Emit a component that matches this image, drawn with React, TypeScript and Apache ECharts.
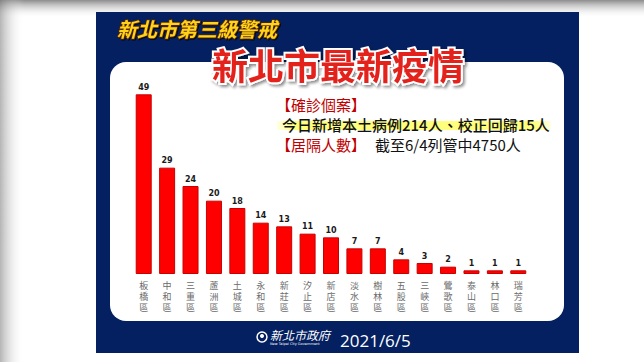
import React, { useEffect, useRef } from "react";
import * as echarts from "echarts";

const districts = ["板橋區", "中和區", "三重區", "蘆洲區", "土城區", "永和區", "新莊區", "汐止區", "新店區", "淡水區", "樹林區", "五股區", "三峽區", "鶯歌區", "泰山區", "林口區", "瑞芳區"];
const cases = [49, 29, 24, 20, 18, 14, 13, 11, 10, 7, 7, 4, 3, 2, 1, 1, 1];

const headerText = "新北市第三級警戒";
const titleText = "新北市最新疫情";
const infoHead1 = "【確診個案】";
const infoLine1 = "今日新增本土病例214人、校正回歸15人";
const infoHead2 = "【居隔人數】";
const infoLine2 = "截至6/4列管中4750人";
const footerOrg = "新北市政府";
const footerOrgEn = "New Taipei City Government";
const footerDate = "2021/6/5";

const CJK = '"Noto Sans CJK TC", "Noto Sans CJK SC", sans-serif';

export default function App() {
  const ref = useRef<HTMLDivElement>(null);
  useEffect(() => {
    if (!ref.current) return;
    const chart = echarts.init(ref.current, null, { renderer: "svg" });
    const txt = (x: number, y: number, text: string, style: any, z = 10) => ({
      type: "text",
      x,
      y,
      z,
      style: { text, fontFamily: CJK, textAlign: "left", align: "left", textVerticalAlign: "middle", verticalAlign: "middle", ...style },
    });
    chart.setOption({
      animation: false,
      backgroundColor: "#ffffff",
      grid: { left: 132, right: 114, top: 54, bottom: 88 },
      xAxis: {
        type: "category",
        data: districts,
        axisLine: { show: false },
        axisTick: { show: false },
        axisLabel: {
          interval: 0,
          margin: 6,
          color: "#6a6a6a",
          fontSize: 9,
          lineHeight: 11,
          fontFamily: CJK,
          formatter: (v: string) => v.split("").join("\n"),
        },
      },
      yAxis: { type: "value", min: 0, max: 60, show: false, splitLine: { show: false } },
      series: [
        {
          type: "bar",
          data: cases,
          barWidth: 16,
          z: 5,
          itemStyle: { color: "#ff0000", borderColor: "#c80000", borderWidth: 1 },
          label: {
            show: true,
            position: "top",
            distance: 3,
            fontSize: 8,
            fontWeight: "bold",
            color: "#1a1a1a",
            fontFamily: "DejaVu Sans, sans-serif",
          },
        },
      ],
      graphic: [
        {
          type: "rect",
          z: -10,
          shape: { x: 0, y: 0, width: 644, height: 18 },
          style: { fill: new echarts.graphic.LinearGradient(0, 0, 0, 1, [{ offset: 0, color: "#8c8c8c" }, { offset: 1, color: "rgba(255,255,255,0)" }]) },
        },
        {
          type: "rect",
          z: -10,
          shape: { x: 0, y: 0, width: 24, height: 362 },
          style: { fill: new echarts.graphic.LinearGradient(0, 0, 1, 0, [{ offset: 0, color: "rgba(120,120,120,0.55)" }, { offset: 1, color: "rgba(255,255,255,0)" }]) },
        },
        {
          type: "rect",
          z: -5,
          shape: { x: 96, y: 12, width: 483, height: 341 },
          style: { fill: "#042060" },
        },
        {
          type: "rect",
          z: -4,
          shape: { x: 110, y: 62, width: 454, height: 259, r: 16 },
          style: { fill: "#ffffff" },
        },
        txt(117, 28, headerText, {
          fontSize: 20,
          fontWeight: "bold",
          fontStyle: "italic",
          fill: "#ffd21a",
          stroke: "#5a2a00",
          lineWidth: 1.5,
          textShadowColor: "rgba(0,0,0,0.7)",
          textShadowOffsetX: 1,
          textShadowOffsetY: 1,
          textShadowBlur: 1,
        }),
        txt(338, 64, titleText, {
          fontSize: 36,
          fontWeight: "bold",
          textAlign: "center",
          align: "center",
          fill: "#e3201c",
          stroke: "#ffffff",
          lineWidth: 4,
          textShadowColor: "rgba(0,0,0,0.45)",
          textShadowOffsetX: 2,
          textShadowOffsetY: 2,
          textShadowBlur: 3,
        }),
        {
          type: "rect",
          z: 5,
          shape: { x: 277, y: 121, width: 274, height: 9 },
          style: {
            fill: new echarts.graphic.LinearGradient(0, 0, 1, 0, [
              { offset: 0, color: "rgba(255,255,120,0.2)" },
              { offset: 0.06, color: "rgba(255,255,110,0.9)" },
              { offset: 0.94, color: "rgba(255,255,110,0.9)" },
              { offset: 1, color: "rgba(255,255,120,0.2)" },
            ]),
          },
        },
        txt(276, 104, infoHead1, { fontSize: 15, fill: "#c00000" }),
        txt(282, 124, infoLine1, { fontSize: 15, fontWeight: 500, fill: "#111111" }),
        txt(276, 144, infoHead2, { fontSize: 15, fill: "#c00000" }),
        txt(375, 144, infoLine2, { fontSize: 15, fill: "#111111" }),
        {
          type: "circle",
          z: 10,
          shape: { cx: 262, cy: 337, r: 5 },
          style: { fill: "none", stroke: "#ffffff", lineWidth: 1.5 },
        },
        {
          type: "circle",
          z: 10,
          shape: { cx: 262, cy: 336, r: 2 },
          style: { fill: "#ffffff" },
        },
        txt(270, 334, footerOrg, { fontSize: 12, fontStyle: "italic", fill: "#ffffff" }),
        txt(270, 344, footerOrgEn, { fontSize: 3.5, fill: "#ffffff", fontFamily: "DejaVu Sans, sans-serif" }),
        txt(340, 340, footerDate, { fontSize: 17, fill: "#ffffff", fontFamily: "Open Sans, sans-serif" }),
      ],
    });
    return () => chart.dispose();
  }, []);
  return <div ref={ref} style={{ position: "fixed", left: 0, top: 0, width: 644, height: 362 }} />;
}
